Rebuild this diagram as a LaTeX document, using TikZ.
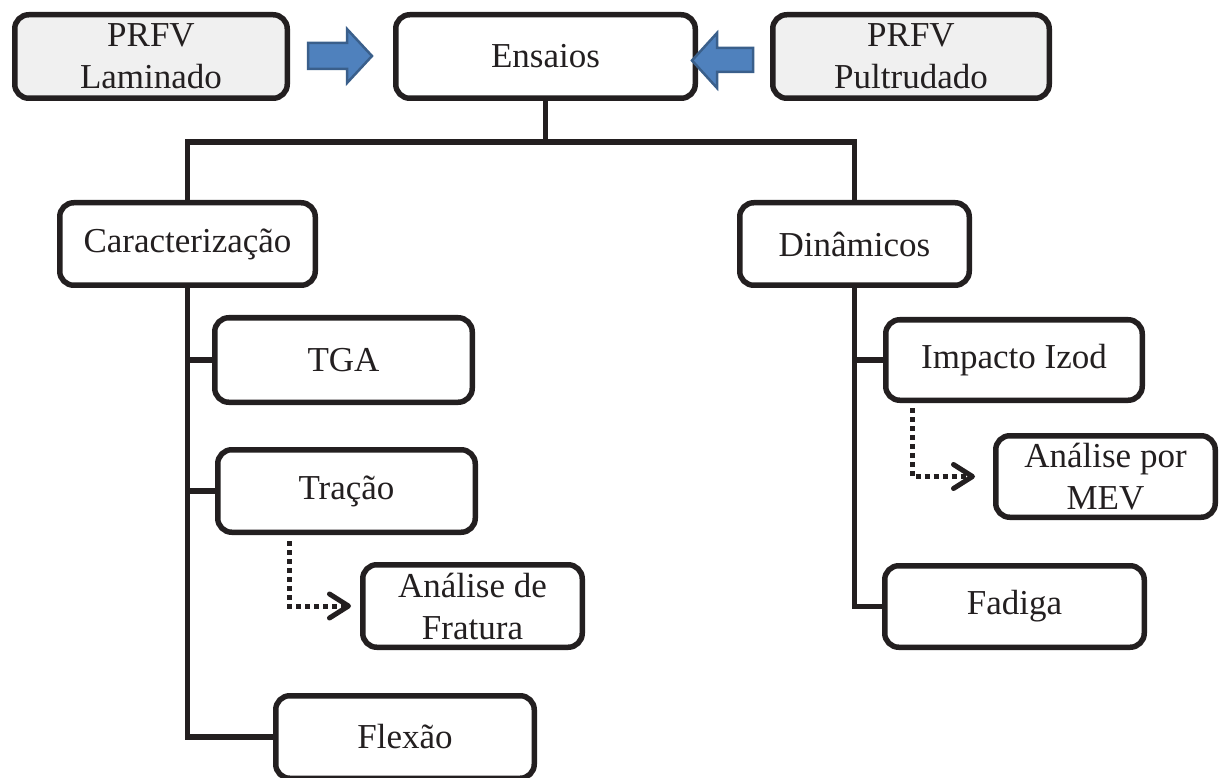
\documentclass[tikz,border=0pt]{standalone}
\usepackage{fontspec}
\setmainfont{Liberation Serif}
\usetikzlibrary{arrows.meta}
\definecolor{ink}{HTML}{231F20}
\definecolor{paleg}{HTML}{F0F0F0}
\definecolor{arrowfill}{HTML}{4F81BD}
\definecolor{arrowedge}{HTML}{3A5F8B}
\tikzset{
  box/.style={draw=ink, line width=5.5pt, rounded corners=14pt, fill=white,
    inner sep=0pt, align=center, text=ink,
    font=\fontsize{35}{42}\selectfont},
  graybox/.style={box, fill=paleg},
  conn/.style={draw=ink, line width=5.5pt},
  dotlink/.style={draw=ink, line width=5pt, dash pattern=on 5pt off 4pt,
    -{Straight Barb[length=19pt, width=24pt, line cap=round, line join=round]}},
  blockarrow/.style={fill=arrowfill, draw=arrowedge, line width=2.5pt, line join=miter}
}
\begin{document}
\begin{tikzpicture}[x=1pt, y=-1pt]
\useasboundingbox (0,0) rectangle (1219,778);

% top row
\node[graybox, minimum width=272.5pt, minimum height=83.5pt] (lam) at (151,56.5) {PRFV\\Laminado};
\node[box, minimum width=299.5pt, minimum height=83.5pt] (ens) at (545.5,56.5) {Ensaios};
\node[graybox, minimum width=276.5pt, minimum height=83.5pt] (pul) at (911,56.5) {PRFV\\Pultrudado};

% block arrows pointing into the central box
\draw[blockarrow] (308,43) -- (347,43) -- (347,29) -- (372,56) -- (347,83) -- (347,69) -- (308,69) -- cycle;
\draw[blockarrow] (753,48) -- (717,48) -- (717,33) -- (692,60.5) -- (717,88) -- (717,72) -- (753,72) -- cycle;

% second level
\node[box, minimum width=255.5pt, minimum height=82.5pt] (car) at (187.5,244) {Caracteriza\c{c}\~ao};
\node[box, minimum width=229.5pt, minimum height=82.5pt] (din) at (854.5,244) {Din\^amicos};

% left branch
\node[box, minimum width=257.5pt, minimum height=84.5pt] (tga) at (343.5,360) {TGA};
\node[box, minimum width=257.5pt, minimum height=82.5pt] (tra) at (346.5,491) {Tra\c{c}\~ao};
\node[box, minimum width=219.5pt, minimum height=82.5pt] (fra) at (472.5,606) {An\'alise de\\Fratura};
\node[box, minimum width=258.5pt, minimum height=82.5pt] (fle) at (405,737) {Flex\~ao};

% right branch
\node[box, minimum width=256.5pt, minimum height=80.5pt] (imp) at (1014,360) {Impacto Izod};
\node[box, minimum width=219.5pt, minimum height=81.5pt] (mev) at (1105.5,476.5) {An\'alise por\\MEV};
\node[box, minimum width=259.5pt, minimum height=81.5pt] (fad) at (1014.5,606.5) {Fadiga};

% tree connectors
\coordinate (hub) at (545.5,142);
\draw[conn] (ens.south) -- (hub);
\draw[conn, line join=miter] (car.north) |- (hub) -| (din.north);
\draw[conn, line join=miter] (car.south) |- (fle.west);
\draw[conn] (car.south |- tga.west) -- (tga.west);
\draw[conn] (car.south |- tra.west) -- (tra.west);
\draw[conn, line join=miter] (din.south) |- (fad.west);
\draw[conn] (din.south |- imp.west) -- (imp.west);

% dotted links to the follow-up analyses
\draw[dotlink, shorten <=6pt, shorten >=9pt] ([xshift=-57.5pt]tra.south) |- (fra.west);
\draw[dotlink, shorten <=5pt, shorten >=18pt] ([xshift=-102pt]imp.south) |- (mev.west);
\end{tikzpicture}
\end{document}
